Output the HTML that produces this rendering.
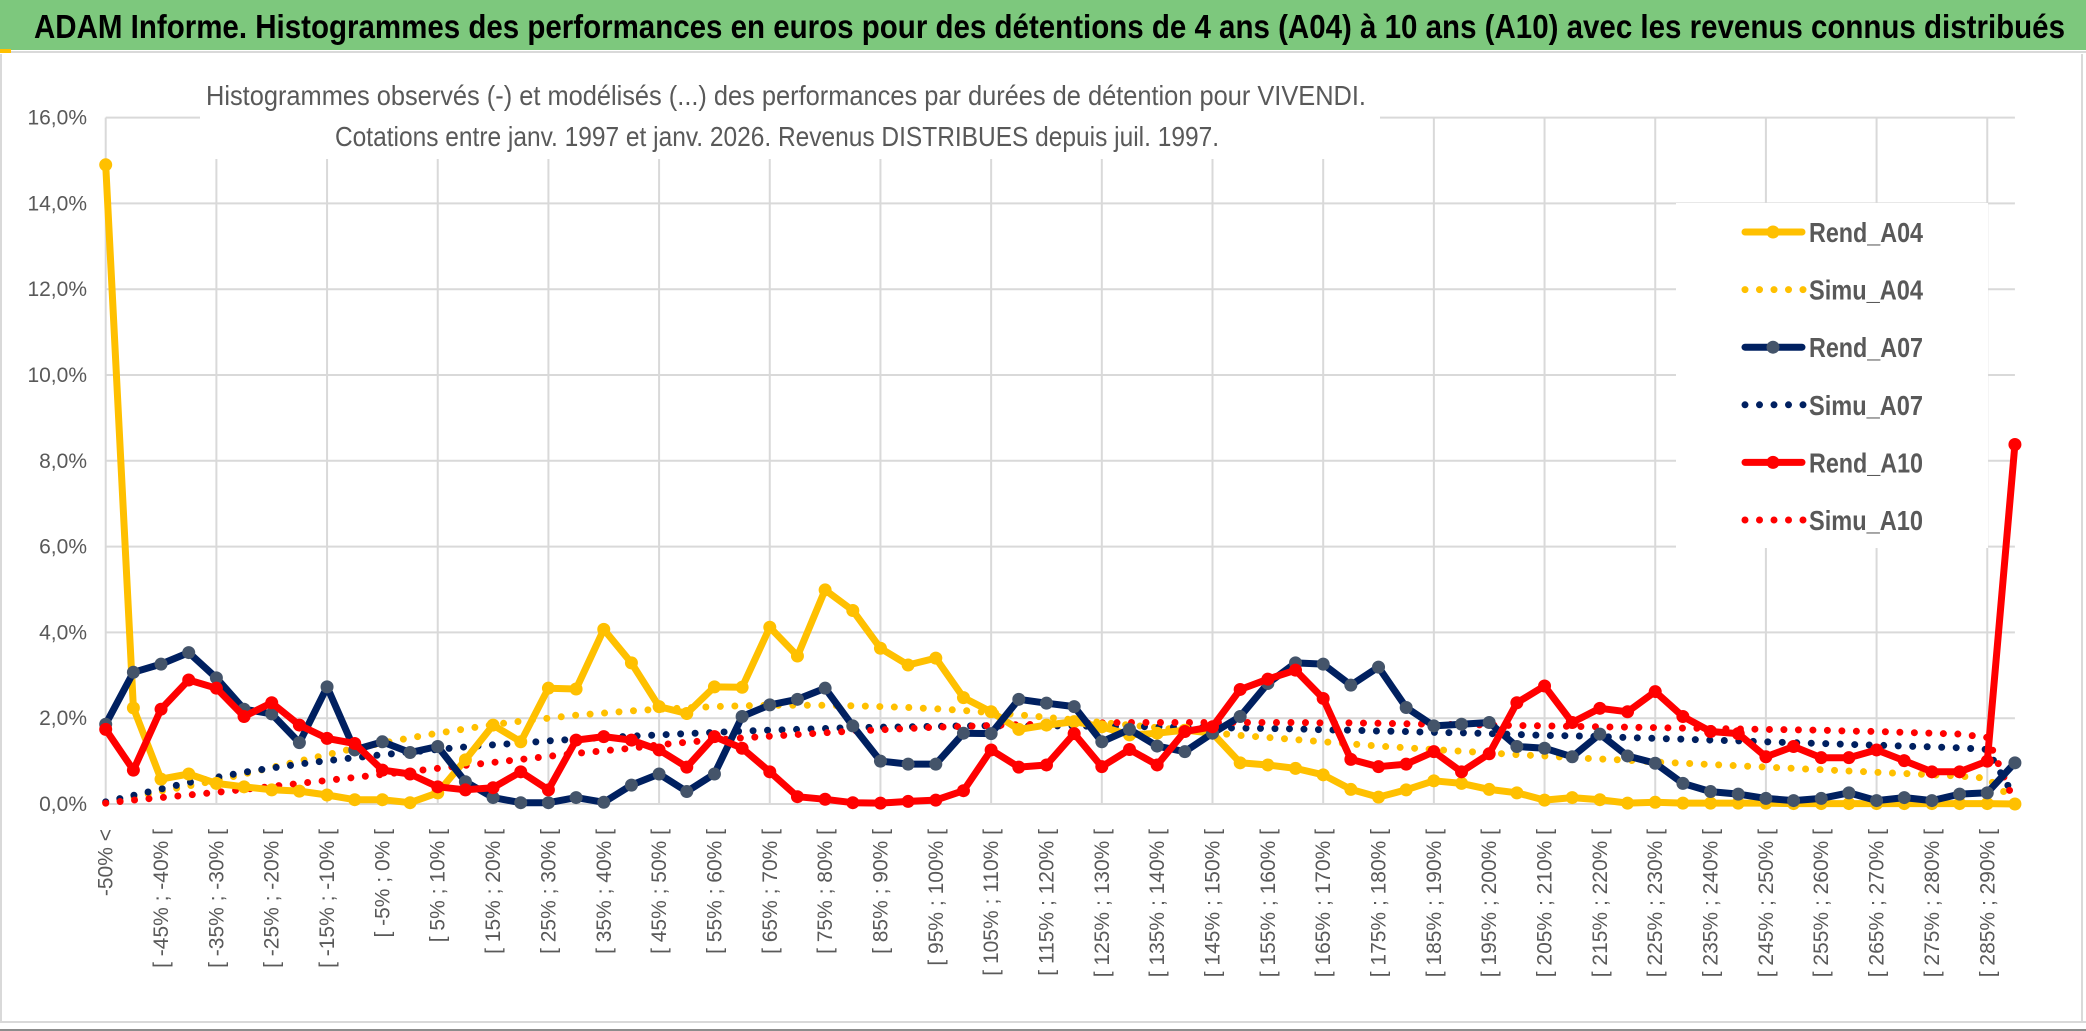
<!DOCTYPE html>
<html><head><meta charset="utf-8"><style>
html,body{margin:0;padding:0;background:#fff;}
svg{display:block;font-family:"Liberation Sans Narrow","Liberation Sans",sans-serif;}
</style></head><body>
<svg id="chart" width="2086" height="1031" viewBox="0 0 2086 1031" xmlns="http://www.w3.org/2000/svg">
<rect x="0" y="0" width="2086" height="1031" fill="#fff"/>
<rect x="0" y="0" width="2086" height="50" fill="#7dc87d"/>
<line x1="0" y1="52" x2="2086" y2="52" stroke="#d9d9d9" stroke-width="2"/>
<rect x="0" y="49" width="11" height="4" fill="#ffc000"/>
<text x="34" y="38" font-size="33" font-weight="bold" fill="#000" textLength="2031" lengthAdjust="spacingAndGlyphs">ADAM Informe. Histogrammes des performances en euros pour des détentions de 4 ans (A04) à 10 ans (A10) avec les revenus connus distribués</text>
<line x1="1" y1="54" x2="1" y2="1023" stroke="#d9d9d9" stroke-width="2"/>
<line x1="2082" y1="54" x2="2082" y2="1023" stroke="#d9d9d9" stroke-width="2"/>
<line x1="0" y1="1022" x2="2086" y2="1022" stroke="#d9d9d9" stroke-width="2"/>
<line x1="0" y1="1030" x2="2086" y2="1030" stroke="#8c8c8c" stroke-width="2"/>
<g id="grid"></g>
<g id="yaxis"></g>
<g id="xaxis"></g>
<g id="series"></g>
<rect x="200" y="60" width="1180" height="99" fill="#fff"/>
<text x="786" y="105" font-size="28" fill="#595959" text-anchor="middle" textLength="1160" lengthAdjust="spacingAndGlyphs">Histogrammes observés (-) et modélisés (...) des performances par durées de détention pour VIVENDI.</text>
<text x="777" y="146" font-size="28" fill="#595959" text-anchor="middle" textLength="884" lengthAdjust="spacingAndGlyphs">Cotations entre janv. 1997 et janv. 2026. Revenus DISTRIBUES depuis juil. 1997.</text>
<g id="legend"></g>
</svg>
<script>
const categories = [];
categories.push("-50% <");
for (let k = -50; k < 300; k += 5) { if (categories.length < 70) categories.push("[ " + k + "% ; " + (k + 5) + "% ["); }
const rendA04 = [14.9,2.24,0.58,0.70,0.48,0.40,0.33,0.30,0.21,0.10,0.10,0.03,0.26,1.03,1.84,1.45,2.70,2.68,4.07,3.29,2.27,2.11,2.73,2.72,4.12,3.45,4.99,4.51,3.63,3.24,3.40,2.48,2.15,1.74,1.84,1.92,1.80,1.61,1.65,1.72,1.65,0.96,0.91,0.83,0.68,0.34,0.16,0.33,0.54,0.48,0.34,0.26,0.09,0.15,0.10,0.02,0.04,0.02,0.02,0.02,0.02,0.01,0.01,0.01,0.01,0.01,0.01,0.01,0.01,0.00];
const simuA04 = [0.02,0.15,0.30,0.42,0.55,0.70,0.85,1.00,1.15,1.30,1.42,1.54,1.65,1.75,1.85,1.93,2.00,2.07,2.12,2.17,2.21,2.24,2.27,2.29,2.30,2.30,2.30,2.29,2.27,2.25,2.22,2.18,2.13,2.08,2.02,1.96,1.90,1.84,1.78,1.72,1.66,1.60,1.55,1.50,1.45,1.40,1.35,1.31,1.27,1.23,1.19,1.15,1.12,1.08,1.05,1.02,0.98,0.95,0.92,0.89,0.86,0.83,0.80,0.77,0.74,0.71,0.68,0.65,0.60,0.08];
const rendA07 = [1.86,3.07,3.26,3.53,2.94,2.21,2.10,1.43,2.73,1.26,1.45,1.20,1.34,0.52,0.15,0.03,0.03,0.15,0.04,0.44,0.70,0.29,0.70,2.04,2.31,2.44,2.70,1.82,1.00,0.93,0.93,1.65,1.64,2.44,2.35,2.27,1.45,1.74,1.35,1.22,1.65,2.04,2.81,3.29,3.26,2.77,3.19,2.25,1.82,1.86,1.90,1.34,1.30,1.10,1.63,1.12,0.95,0.48,0.29,0.23,0.13,0.08,0.13,0.26,0.08,0.15,0.08,0.23,0.26,0.96];
const simuA07 = [0.05,0.20,0.35,0.50,0.62,0.74,0.84,0.93,1.01,1.08,1.15,1.21,1.27,1.33,1.38,1.42,1.47,1.51,1.55,1.58,1.61,1.64,1.67,1.70,1.72,1.74,1.76,1.78,1.79,1.80,1.81,1.82,1.82,1.82,1.82,1.82,1.81,1.81,1.80,1.79,1.78,1.77,1.76,1.75,1.73,1.72,1.70,1.69,1.67,1.66,1.64,1.62,1.60,1.59,1.57,1.55,1.53,1.51,1.49,1.47,1.45,1.43,1.41,1.39,1.37,1.35,1.33,1.31,1.27,0.15];
const rendA10 = [1.74,0.79,2.21,2.89,2.70,2.04,2.36,1.84,1.53,1.41,0.79,0.70,0.40,0.33,0.38,0.75,0.33,1.49,1.57,1.49,1.26,0.86,1.57,1.30,0.75,0.17,0.11,0.03,0.02,0.06,0.09,0.31,1.26,0.86,0.91,1.64,0.87,1.27,0.91,1.69,1.80,2.67,2.91,3.12,2.46,1.04,0.87,0.93,1.22,0.75,1.17,2.36,2.75,1.90,2.23,2.15,2.62,2.04,1.69,1.64,1.10,1.34,1.08,1.08,1.26,1.01,0.75,0.75,1.00,8.38];
const simuA10 = [0.02,0.09,0.15,0.21,0.27,0.34,0.41,0.48,0.55,0.62,0.69,0.76,0.83,0.90,0.97,1.04,1.11,1.18,1.24,1.30,1.38,1.44,1.49,1.54,1.58,1.62,1.66,1.70,1.73,1.76,1.79,1.81,1.83,1.85,1.86,1.88,1.89,1.90,1.90,1.90,1.90,1.90,1.90,1.90,1.89,1.89,1.88,1.87,1.86,1.85,1.84,1.83,1.82,1.81,1.80,1.79,1.78,1.77,1.76,1.75,1.74,1.73,1.72,1.70,1.69,1.67,1.65,1.63,1.55,0.02];
const yTicks = [0,2,4,6,8,10,12,14,16];
const yTickLabels = ["0,0%","2,0%","4,0%","6,0%","8,0%","10,0%","12,0%","14,0%","16,0%"];

const NS = "http://www.w3.org/2000/svg";
const X0 = 105.7, STEP = 27.67, Y0 = 804, PPU = 42.9;
function xs(i){ return X0 + i*STEP; }
function ys(v){ return Y0 - v*PPU; }
function mk(tag, attrs, parent){ const e=document.createElementNS(NS,tag); for(const k in attrs) e.setAttribute(k, attrs[k]); parent.appendChild(e); return e; }

const grid = document.getElementById('grid');
const xEnd = xs(categories.length-1);
yTicks.forEach(function(t){
  const l = mk('line',{x1:X0,x2:xEnd,y1:ys(t),y2:ys(t),stroke:'#d9d9d9','stroke-width':2},grid);
  
  
});
for (let i=4;i<categories.length;i+=4){
  const l = mk('line',{x1:xs(i),x2:xs(i),y1:ys(16),y2:Y0,stroke:'#d9d9d9','stroke-width':2},grid);
  
  
}
mk('line',{x1:X0,x2:X0,y1:ys(16),y2:Y0,stroke:'#d9d9d9','stroke-width':2},grid);

const yaxis = document.getElementById('yaxis');
yTicks.forEach(function(t,k){
  const tx = mk('text',{x:87,y:ys(t)+7,'font-size':21,fill:'#595959','text-anchor':'end'},yaxis);
  tx.textContent = yTickLabels[k];
  
  
});

const xaxis = document.getElementById('xaxis');
categories.forEach(function(c,i){
  if (i%2!==0) return;
  const x = xs(i)+7, y = 829;
  const tx = mk('text',{x:x,y:y,'font-size':21,fill:'#595959','text-anchor':'end',transform:'rotate(-90 '+x+' '+y+')','font-family':'"Liberation Sans", sans-serif'},xaxis);
  tx.textContent = c;
  
  
});

const sg = document.getElementById('series');
function pts(arr){ return arr.map(function(v,i){ return xs(i).toFixed(1)+','+ys(v).toFixed(1); }).join(' '); }
function dotted(arr,color,name){
  const p = mk('polyline',{points:pts(arr),fill:'none',stroke:color,'stroke-width':7,'stroke-linecap':'round','stroke-dasharray':'0 14.5'},sg);
  
  
}
function solid(arr,color,mcolor,name){
  const g = mk('g',{},sg);
  
  
  mk('polyline',{points:pts(arr),fill:'none',stroke:color,'stroke-width':7,'stroke-linejoin':'round'},g);
  arr.forEach(function(v,i){
    const c = mk('circle',{cx:xs(i),cy:ys(v),r:6.5,fill:mcolor},g);
    
    
  });
}
dotted(simuA04,'#ffc000','series-simu-a04');
dotted(simuA07,'#002060','series-simu-a07');
dotted(simuA10,'#ff0000','series-simu-a10');
solid(rendA04,'#ffc000','#ffc000','series-rend-a04');
solid(rendA07,'#002060','#44546a','series-rend-a07');
solid(rendA10,'#ff0000','#ff0000','series-rend-a10');

const lg = document.getElementById('legend');
mk('rect',{x:1676,y:203,width:312,height:345,fill:'#fff'},lg);
const legNames = ["Rend_A04","Simu_A04","Rend_A07","Simu_A07","Rend_A10","Simu_A10"];
const legColors = ["#ffc000","#ffc000","#002060","#002060","#ff0000","#ff0000"];
const legMarker = ["#ffc000",null,"#44546a",null,"#ff0000",null];
legNames.forEach(function(n,k){
  const y = 232 + k*57.6;
  const g = mk('g',{},lg);
  
  
  if (legMarker[k]) {
    mk('line',{x1:1745,x2:1802,y1:y,y2:y,stroke:legColors[k],'stroke-width':7,'stroke-linecap':'round'},g);
    mk('circle',{cx:1773,cy:y,r:6.5,fill:legMarker[k]},g);
  } else {
    mk('line',{x1:1745,x2:1804,y1:y,y2:y,stroke:legColors[k],'stroke-width':7,'stroke-linecap':'round','stroke-dasharray':'0 14.5'},g);
  }
  const t = mk('text',{x:1809,y:y+10,'font-size':28,fill:'#595959','font-weight':'bold',textLength:114,lengthAdjust:'spacingAndGlyphs'},g);
  t.textContent = n;
});
</script>
</body></html>
